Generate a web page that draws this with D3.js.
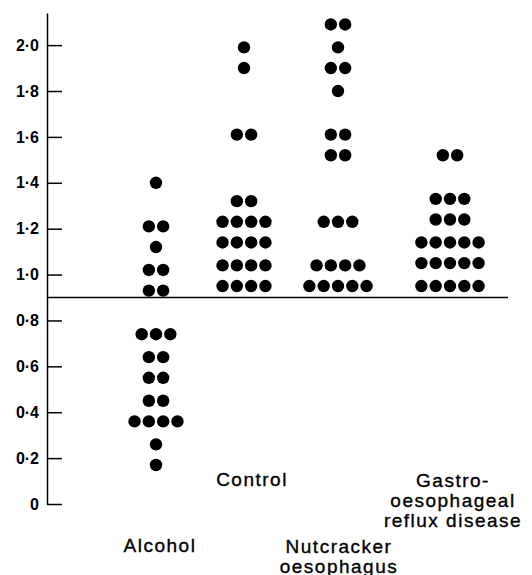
<!DOCTYPE html>
<html>
<head>
<meta charset="utf-8">
<script src="https://cdn.jsdelivr.net/npm/d3@7"></script>
<style>
  body { margin: 0; background: #fff; }
  svg { display: block; font-family: "Liberation Sans", Arial, sans-serif; }
  .axis path, .axis line { stroke: #000; stroke-width: 1.5px; }
  .axis text { font-size: 16px; font-weight: bold; fill: #000; }
  .group-label { font-size: 19px; letter-spacing: 1.5px; fill: #000; stroke: #000; stroke-width: 0.35px; }
</style>
</head>
<body>
<div id="chart"></div>
<script>
// groups in the order they appear
const groups = ["Alcohol", "Control", "Nutcracker", "GORD"];
// one value per dot
const alcohol = [1.40, 1.21, 1.21, 1.12, 1.02, 1.02, 0.93, 0.93,
                 0.74, 0.74, 0.74, 0.64, 0.64, 0.55, 0.55, 0.45, 0.45,
                 0.36, 0.36, 0.36, 0.36, 0.26, 0.17];
const control = [1.99, 1.90, 1.61, 1.61, 1.32, 1.32,
                 1.23, 1.23, 1.23, 1.23, 1.14, 1.14, 1.14, 1.14,
                 1.04, 1.04, 1.04, 1.04, 0.95, 0.95, 0.95, 0.95];
const nutcracker = [2.09, 2.09, 1.99, 1.90, 1.90, 1.80, 1.61, 1.61, 1.52, 1.52,
                    1.23, 1.23, 1.23, 1.04, 1.04, 1.04, 1.04,
                    0.95, 0.95, 0.95, 0.95, 0.95];
const gord = [1.52, 1.52, 1.33, 1.33, 1.33, 1.24, 1.24, 1.24,
              1.14, 1.14, 1.14, 1.14, 1.14, 1.05, 1.05, 1.05, 1.05, 1.05,
              0.95, 0.95, 0.95, 0.95, 0.95];
const groupLabels = [["Alcohol"], ["Control"], ["Nutcracker", "oesophagus"],
                     ["Gastro-", "oesophageal", "reflux disease"]];
const tickValues = [0, 0.2, 0.4, 0.6, 0.8, 1.0, 1.2, 1.4, 1.6, 1.8, 2.0];
const cutoff = 0.9;

const w = 532, h = 575;
const axisX = 47;
const dotR = 6.2, dotGap = 14.3;

const svg = d3.select("#chart").append("svg")
    .attr("width", w)
    .attr("height", h);

const y = d3.scaleLinear()
    .domain([0, 2.14])
    .range([504, 13]);

const x = d3.scaleOrdinal()
    .domain(groups)
    .range([156, 244, 338, 450]);

// axis with ticks pointing inward
svg.append("g")
    .attr("class", "axis")
    .attr("transform", "translate(" + axisX + ",0)")
    .call(d3.axisLeft(y)
        .tickValues(tickValues)
        .tickSize(-15)
        .tickSizeOuter(0)
        .tickPadding(8)
        .tickFormat(d => d === 0 ? "0" : d3.format(".1f")(d).replace(".", "\u00B7")));

// horizontal cut-off line
svg.append("line")
    .attr("x1", axisX).attr("x2", 508)
    .attr("y1", y(cutoff)).attr("y2", y(cutoff))
    .attr("stroke", "#000")
    .attr("stroke-width", 1.5);

// build dot positions: equal values form a centred row
const allData = [alcohol, control, nutcracker, gord];
let dots = [];
allData.forEach((vals, gi) => {
    const rows = d3.group(vals, v => v);
    rows.forEach((row, v) => {
        row.forEach((_, i) => {
            dots.push({ group: groups[gi], value: v, offset: (i - (row.length - 1) / 2) * dotGap });
        });
    });
});

svg.selectAll("circle.dot")
    .data(dots)
    .enter()
    .append("circle")
    .attr("class", "dot")
    .attr("cx", d => x(d.group) + d.offset)
    .attr("cy", d => y(d.value))
    .attr("r", dotR)
    .attr("fill", "#000");

// group labels under the plot
const labelTop = [552, 486, 553, 487];
const labelShift = [4, 8, 1, 3];
groupLabels.forEach((lines, gi) => {
    const t = svg.append("text")
        .attr("class", "group-label")
        .attr("text-anchor", "middle");
    lines.forEach((line, li) => {
        t.append("tspan")
            .attr("x", x(groups[gi]) + labelShift[gi])
            .attr("y", labelTop[gi] + li * 20)
            .text(line);
    });
});
</script>
</body>
</html>
